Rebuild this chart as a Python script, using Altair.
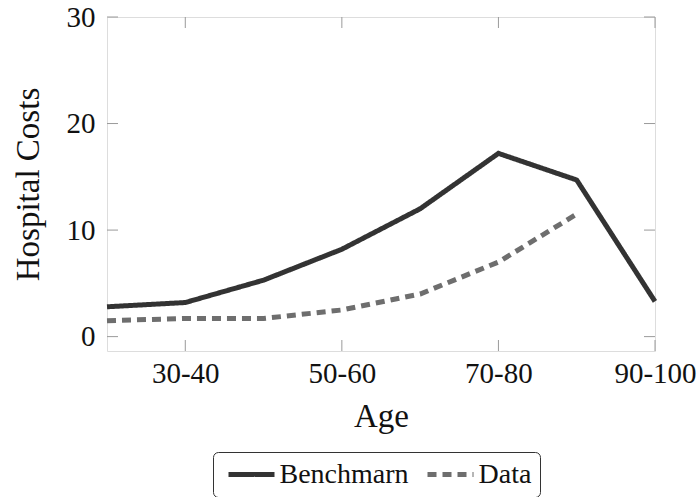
import altair as alt
import pandas as pd

ages = ["20-30", "30-40", "40-50", "50-60", "60-70", "70-80", "80-90", "90-100"]
benchmark = [2.8, 3.2, 5.3, 8.2, 12.0, 17.2, 14.7, 3.3]
data_vals = [1.5, 1.7, 1.7, 2.5, 4.0, 7.0, 11.5, None]
x_tick_labels = ["30-40", "50-60", "70-80", "90-100"]
y_ticks = [0, 10, 20, 30]
series_names = ["Benchmarn", "Data"]

rows = []
for a, b in zip(ages, benchmark):
    rows.append({"age": a, "cost": b, "series": "Benchmarn"})
for a, d in zip(ages, data_vals):
    if d is not None:
        rows.append({"age": a, "cost": d, "series": "Data"})
df = pd.DataFrame(rows)

W, H = 548, 334
FONT = "Liberation Serif"
TL = 11

xscale = alt.Scale(domain=ages, type="point", padding=0)
yscale = alt.Scale(domain=[-1.35, 30], nice=False, zero=False)

xaxis = alt.Axis(values=x_tick_labels, title="Age", labelAngle=0, labelAlign="center",
                 labelBaseline="top", ticks=False, tickSize=0, domain=False, grid=False,
                 labelPadding=8, titlePadding=12, labelFontSize=29,
                 titleFontSize=33, labelFont=FONT, titleFont=FONT,
                 labelColor="#111", titleColor="#111", titleFontWeight="normal")
yaxis = alt.Axis(values=y_ticks, title="Hospital Costs", ticks=False, tickSize=0,
                 domain=False, grid=False, labelPadding=12, titlePadding=21,
                 labelFontSize=29, titleFontSize=33, labelFont=FONT,
                 titleFont=FONT, labelColor="#111", titleColor="#111",
                 titleFontWeight="normal")

legend = alt.Legend(title=None, orient="none", direction="horizontal",
                    legendX=106, legendY=435,
                    symbolType="M-2.3,0H2.3", symbolSize=400, symbolStrokeWidth=5,
                    symbolOffset=16,
                    labelFontSize=28, labelFont=FONT, labelColor="#111",
                    labelOffset=14, columnPadding=8, padding=8.5,
                    strokeColor="#333333", cornerRadius=5, fillColor="white")

lines = alt.Chart(df).mark_line(strokeWidth=5, strokeJoin="miter").encode(
    x=alt.X("age:O", scale=xscale, sort=ages, axis=xaxis),
    y=alt.Y("cost:Q", scale=yscale, axis=yaxis),
    color=alt.Color("series:N", scale=alt.Scale(domain=series_names, range=["#333333", "#6e6e6e"]),
                    legend=legend),
    strokeDash=alt.StrokeDash("series:N", scale=alt.Scale(domain=series_names, range=[[1, 0], [9, 6]]),
                              legend=legend),
)

xt = pd.DataFrame({"age": x_tick_labels})
yt = pd.DataFrame({"cost": y_ticks})
tick_color = "#9a9a9a"

bottom_ticks = alt.Chart(xt).mark_rule(color=tick_color, strokeWidth=1).encode(
    x=alt.X("age:O", scale=xscale, sort=ages, axis=xaxis), y=alt.value(H), y2=alt.value(H - TL))
top_ticks = alt.Chart(xt).mark_rule(color=tick_color, strokeWidth=1).encode(
    x=alt.X("age:O", scale=xscale, sort=ages, axis=xaxis), y=alt.value(0), y2=alt.value(TL))
left_ticks = alt.Chart(yt).mark_rule(color=tick_color, strokeWidth=1).encode(
    y=alt.Y("cost:Q", scale=yscale, axis=yaxis), x=alt.value(0), x2=alt.value(TL))
right_ticks = alt.Chart(yt).mark_rule(color=tick_color, strokeWidth=1).encode(
    y=alt.Y("cost:Q", scale=yscale, axis=yaxis), x=alt.value(W), x2=alt.value(W - TL))

chart = alt.layer(bottom_ticks, top_ticks, left_ticks, right_ticks, lines).properties(
    width=W, height=H,
    autosize=alt.AutoSizeParams(type="none"),
    padding={"left": 107, "top": 17, "right": 45, "bottom": 146},
).configure_view(stroke="#222222", strokeWidth=1.2).configure(background="white")

chart.save("out.html", embed_options={"renderer": "svg", "actions": False})
